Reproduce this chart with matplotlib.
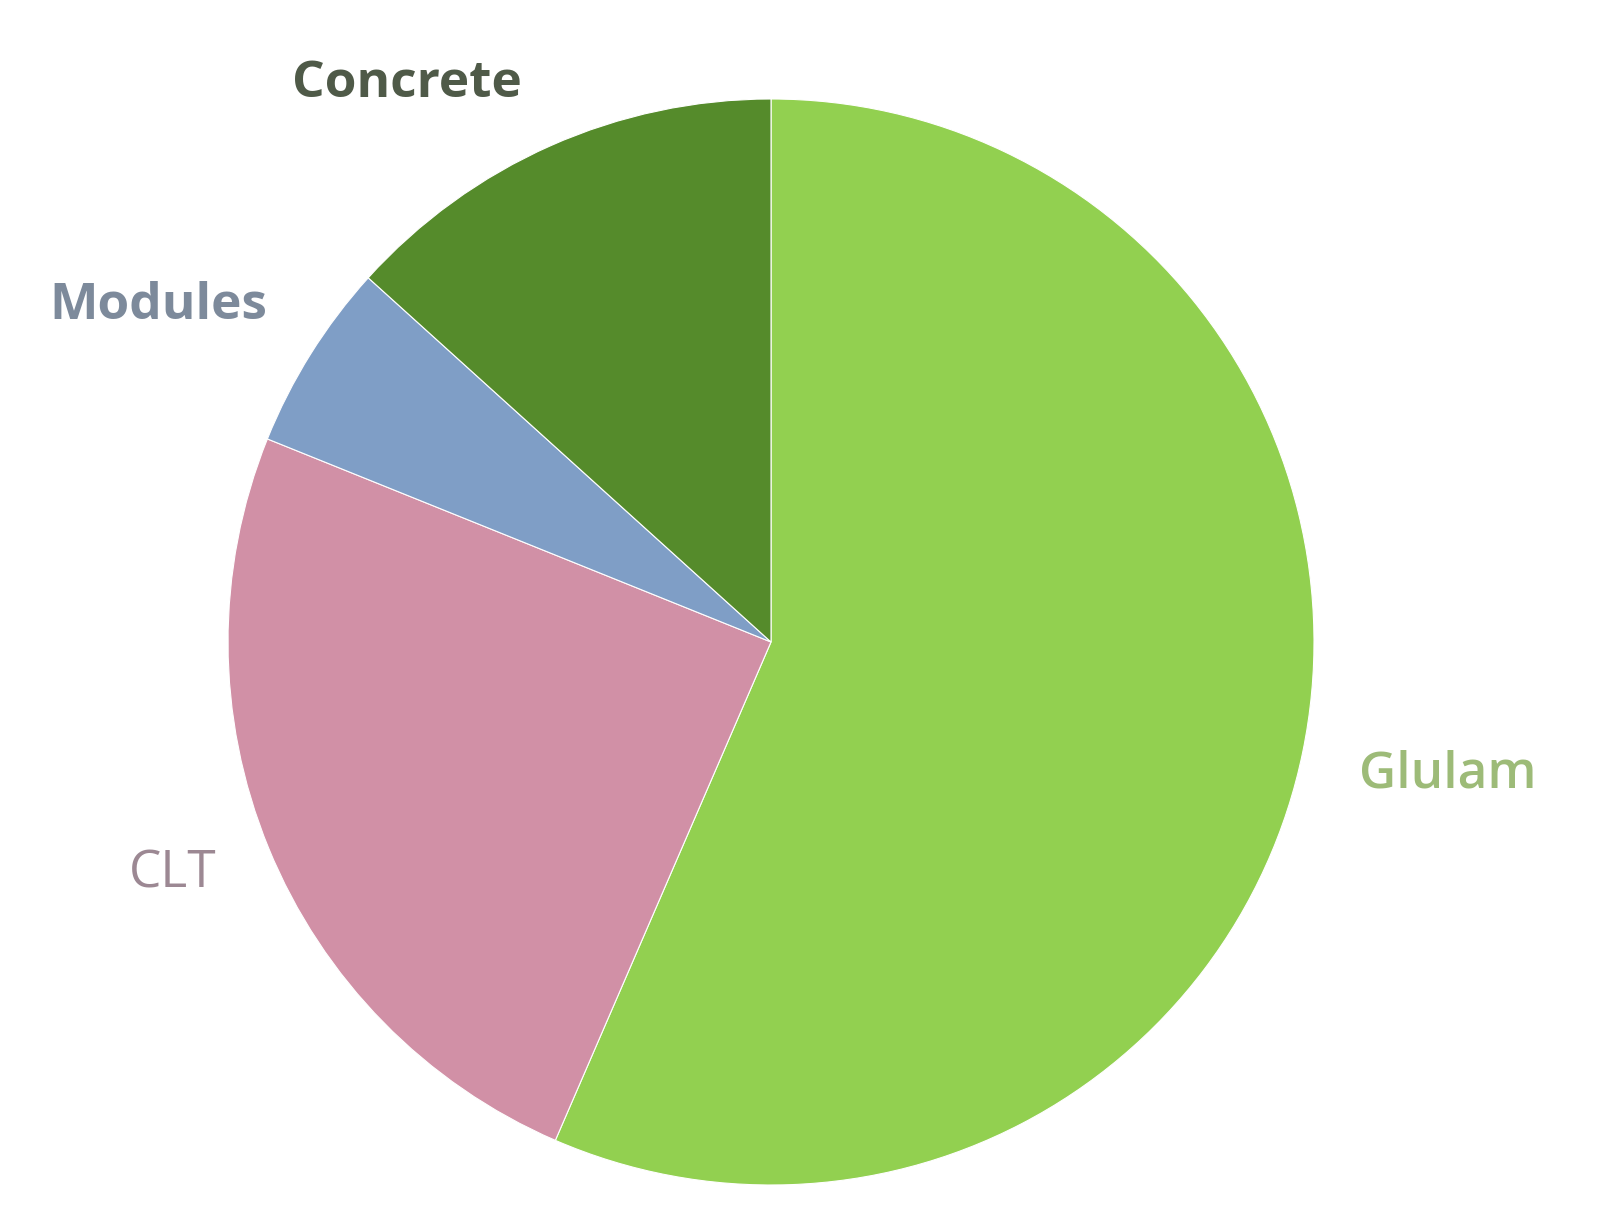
import matplotlib.pyplot as plt

# slices, clockwise from 12 o'clock
labels = ['Glulam', 'CLT', 'Modules', 'Concrete']
shares = [56.5, 24.6, 5.6, 13.3]
colors = ['#92D050', '#D190A6', '#7F9EC6', '#558B2B']
text_colors = ['#9DBB78', '#9C8893', '#7D8A9B', '#4F5A48']
weights = ['semibold', 'normal', 'bold', 'bold']
# label positions in pixels (x, y from top)
label_pos = [(1448, 774), (173, 874), (158, 306), (407, 84)]

W, H = 1597, 1209
fig = plt.figure(figsize=(W / 100, H / 100), dpi=100)
ax = fig.add_axes([0, 0, 1, 1])

ax.pie(shares, colors=colors, startangle=90, counterclock=False,
       center=(771, H - 642), radius=543,
       wedgeprops=dict(edgecolor='#ffffff', linewidth=0.8))

# pie() resets the limits, so set them afterwards
ax.set_xlim(0, W)
ax.set_ylim(0, H)
ax.set_aspect('equal')
ax.axis('off')

for lab, (x, y), c, w in zip(labels, label_pos, text_colors, weights):
    ax.text(x, H - y, lab, color=c, fontsize=37, fontweight=w,
            family='Open Sans', ha='center', va='center')

fig.savefig('out.png', dpi=100)
